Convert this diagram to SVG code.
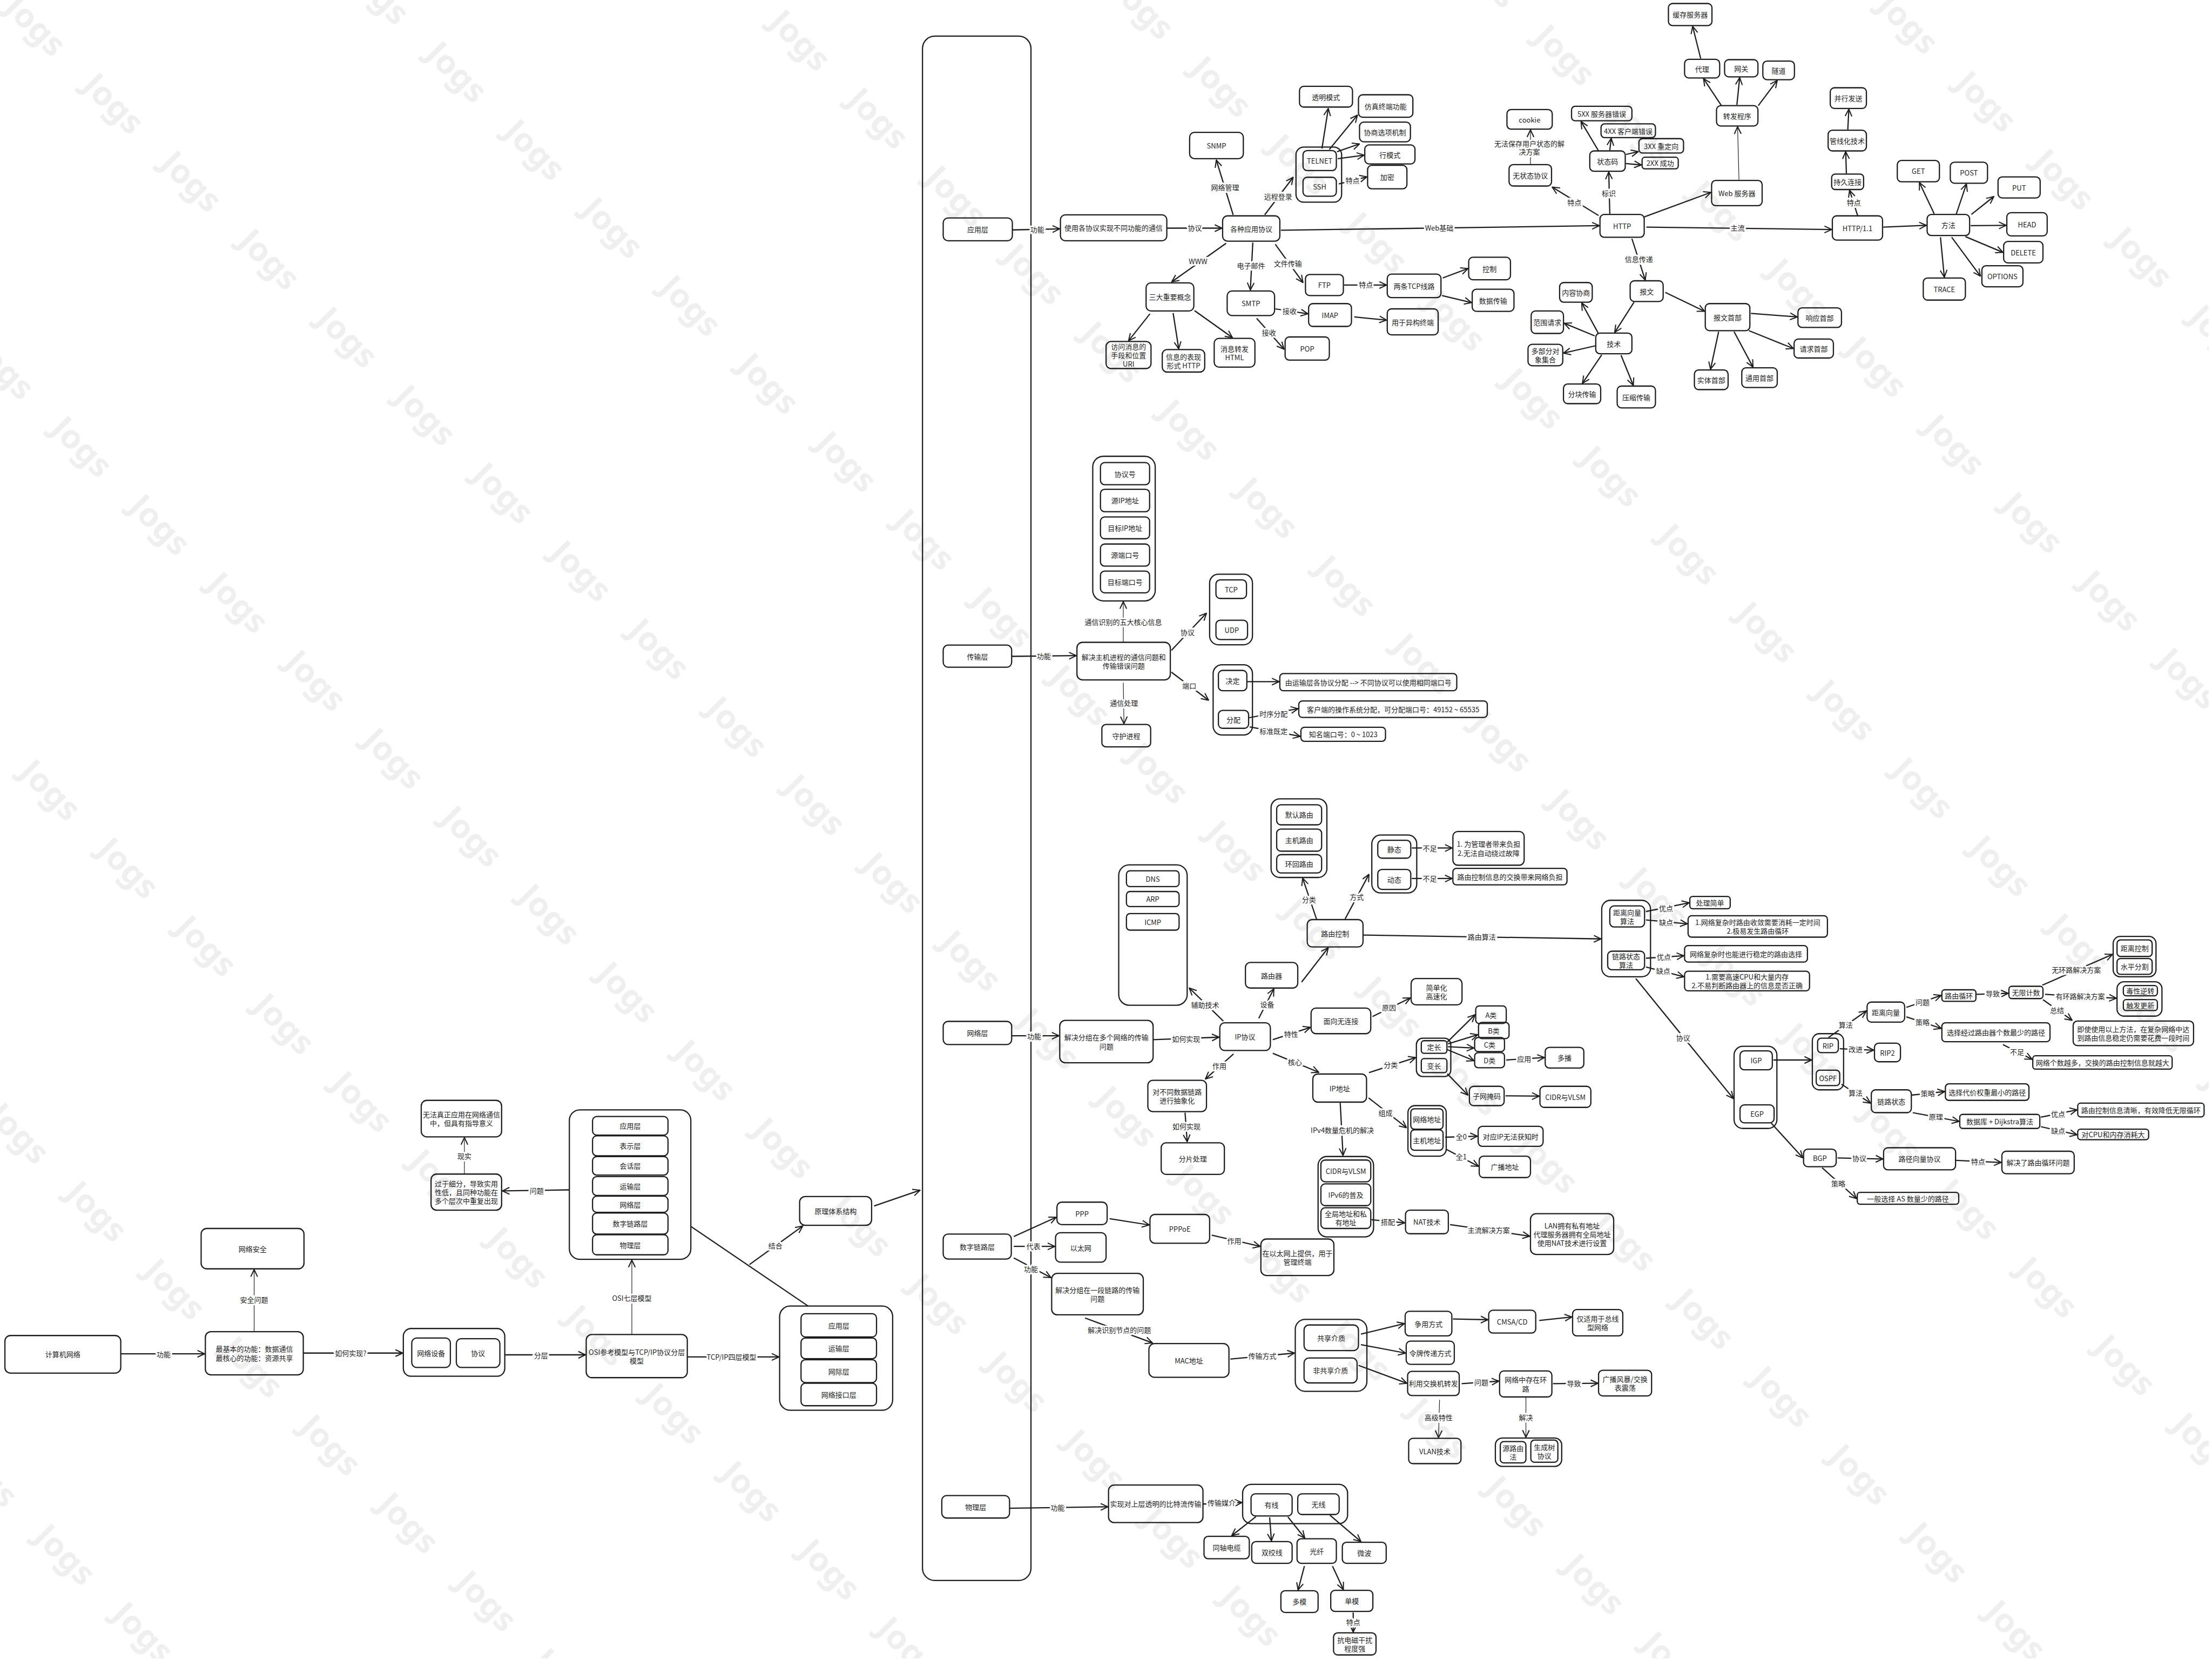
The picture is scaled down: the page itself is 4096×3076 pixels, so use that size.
<svg xmlns="http://www.w3.org/2000/svg" width="4096" height="3076" viewBox="0 0 4096 3076">
<defs>
<style>
.n{fill:none;stroke:#1e1e1e;stroke-width:3.5}
.t{font-family:"Noto Sans CJK SC","Noto Sans",sans-serif;font-size:20px;fill:#1e1e1e;text-anchor:middle;dominant-baseline:central}
.e{fill:none;stroke:#1e1e1e;stroke-width:3.5;marker-end:url(#ah)}
.th{stroke-width:1.8}
.nm{marker-end:none}
.l{font-family:"Noto Sans CJK SC","Noto Sans",sans-serif;font-size:20px;fill:#1e1e1e;text-anchor:middle;dominant-baseline:central;paint-order:stroke;stroke:#fff;stroke-width:10px;stroke-linejoin:round}
.wm{font-family:"Noto Sans","DejaVu Sans",sans-serif;font-weight:bold;font-size:95px;fill:#efefef;text-anchor:middle;dominant-baseline:central}
</style>
<marker id="ah" viewBox="0 0 20 20" refX="19" refY="10" markerWidth="24" markerHeight="24" markerUnits="userSpaceOnUse" orient="auto"><path d="M2,2 L19,10 L2,18" fill="none" stroke="#1e1e1e" stroke-width="2.6"/></marker>
<pattern id="wmp" patternUnits="userSpaceOnUse" x="-33.3" y="354.2" width="314" height="755.2" patternTransform="rotate(45)"><text class="wm" x="157" y="377">Jogs</text></pattern>
</defs>
<rect width="4096" height="3076" fill="#ffffff"/>
<g transform="scale(0.65)">
<rect width="6292" height="4725" fill="url(#wmp)"/>

<g id="nodes">
<g id="n-jsjwl"><rect class="n" x="14" y="3805" width="330" height="107" rx="16"/><text class="t" x="179" y="3858">计算机网络</text></g>
<g id="n-gn"><rect class="n" x="585" y="3794" width="279" height="123" rx="16"/><text class="t" x="724.5" y="3843">最基本的功能：数据通信</text><text class="t" x="724.5" y="3868">最核心的功能：资源共享</text></g>
<g id="n-wlaq"><rect class="n" x="573" y="3500" width="293" height="115" rx="16"/><text class="t" x="719.5" y="3557.5">网络安全</text></g>
<g id="g-sbxy"><rect class="n" x="1149" y="3785" width="289" height="136" rx="22"/><rect class="n" x="1173" y="3812" width="110" height="84" rx="14"/><text class="t" x="1228" y="3854">网络设备</text><rect class="n" x="1300" y="3814" width="124" height="82" rx="14"/><text class="t" x="1362" y="3855">协议</text></g>
<g id="n-osi"><rect class="n" x="1670" y="3802" width="288" height="123" rx="16"/><text class="t" x="1814" y="3851">OSI参考模型与TCP/IP协议分层</text><text class="t" x="1814" y="3876">模型</text></g>
<g id="g-osi7"><rect class="n" x="1622" y="3162" width="346" height="426" rx="30"/>
<rect class="n" x="1688" y="3181" width="215" height="53" rx="12"/><text class="t" x="1795.5" y="3207.5">应用层</text>
<rect class="n" x="1688" y="3236" width="215" height="57" rx="12"/><text class="t" x="1795.5" y="3264.5">表示层</text>
<rect class="n" x="1688" y="3295" width="215" height="53" rx="12"/><text class="t" x="1795.5" y="3321.5">会话层</text>
<rect class="n" x="1688" y="3352" width="215" height="54" rx="12"/><text class="t" x="1795.5" y="3379">运输层</text>
<rect class="n" x="1688" y="3408" width="215" height="46" rx="12"/><text class="t" x="1795.5" y="3431">网络层</text>
<rect class="n" x="1688" y="3456" width="215" height="60" rx="12"/><text class="t" x="1795.5" y="3486">数字链路层</text>
<rect class="n" x="1688" y="3518" width="215" height="57" rx="12"/><text class="t" x="1795.5" y="3546.5">物理层</text></g>
<g id="n-gyxf"><rect class="n" x="1228" y="3345" width="201" height="103" rx="16"/><text class="t" x="1328.5" y="3371.5">过于细分，导致实用</text><text class="t" x="1328.5" y="3396.5">性低，且同种功能在</text><text class="t" x="1328.5" y="3421.5">多个层次中重复出现</text></g>
<g id="n-wfzz"><rect class="n" x="1200" y="3135" width="229" height="104" rx="16"/><text class="t" x="1314.5" y="3174.5">无法真正应用在网络通信</text><text class="t" x="1314.5" y="3199.5">中，但具有指导意义</text></g>
<g id="g-tcpip"><rect class="n" x="2221" y="3721" width="322" height="297" rx="30"/>
<rect class="n" x="2282" y="3743" width="215" height="66" rx="12"/><text class="t" x="2389.5" y="3776">应用层</text>
<rect class="n" x="2282" y="3812" width="215" height="59" rx="12"/><text class="t" x="2389.5" y="3841.5">运输层</text>
<rect class="n" x="2282" y="3874" width="215" height="65" rx="12"/><text class="t" x="2389.5" y="3906.5">网际层</text>
<rect class="n" x="2282" y="3941" width="215" height="64" rx="12"/><text class="t" x="2389.5" y="3973">网络接口层</text></g>
<g id="n-ylti"><rect class="n" x="2278" y="3409" width="205" height="82" rx="16"/><text class="t" x="2380.5" y="3450">原理体系结构</text></g>

<g id="g-layers"><rect class="n" x="2628" y="103" width="309" height="4400" rx="35"/></g>
<g id="n-yyc"><rect class="n" x="2687" y="621" width="197" height="65" rx="14"/><text class="t" x="2785.5" y="653.5">应用层</text></g>
<g id="n-csc"><rect class="n" x="2687" y="1838" width="195" height="63" rx="14"/><text class="t" x="2784.5" y="1869.5">传输层</text></g>
<g id="n-wlc"><rect class="n" x="2687" y="2910" width="195" height="66" rx="14"/><text class="t" x="2784.5" y="2943">网络层</text></g>
<g id="n-szll"><rect class="n" x="2687" y="3516" width="194" height="71" rx="14"/><text class="t" x="2784" y="3551.5">数字链路层</text></g>
<g id="n-wlc2"><rect class="n" x="2683" y="4261" width="193" height="64" rx="14"/><text class="t" x="2779.5" y="4293">物理层</text></g>

<g id="n-sygxy"><rect class="n" x="3021" y="612" width="303" height="74" rx="14"/><text class="t" x="3172.5" y="649">使用各协议实现不同功能的通信</text></g>
<g id="n-gzyyxy"><rect class="n" x="3483" y="615" width="163" height="72" rx="14"/><text class="t" x="3564.5" y="651">各种应用协议</text></g>
<g id="n-snmp"><rect class="n" x="3389" y="377" width="153" height="75" rx="14"/><text class="t" x="3465.5" y="414.5">SNMP</text></g>
<g id="g-telnet"><rect class="n" x="3692" y="419" width="130" height="157" rx="22"/><rect class="n" x="3712" y="429" width="95" height="57" rx="12"/><text class="t" x="3759.5" y="457.5">TELNET</text><rect class="n" x="3712" y="505" width="95" height="54" rx="12"/><text class="t" x="3759.5" y="532">SSH</text></g>
<g id="n-tmms"><rect class="n" x="3702" y="246" width="151" height="59" rx="12"/><text class="t" x="3777.5" y="275.5">透明模式</text></g>
<g id="n-fzzd"><rect class="n" x="3870" y="270" width="155" height="64" rx="12"/><text class="t" x="3947.5" y="302">仿真终端功能</text></g>
<g id="n-xsxx"><rect class="n" x="3873" y="348" width="145" height="56" rx="12"/><text class="t" x="3945.5" y="376">协商选项机制</text></g>
<g id="n-hms"><rect class="n" x="3888" y="413" width="143" height="54" rx="12"/><text class="t" x="3959.5" y="440">行模式</text></g>
<g id="n-jm"><rect class="n" x="3896" y="471" width="112" height="67" rx="12"/><text class="t" x="3952" y="504.5">加密</text></g>
<g id="n-sdzy"><rect class="n" x="3265" y="806" width="136" height="80" rx="14"/><text class="t" x="3333" y="846">三大重要概念</text></g>
<g id="n-uri"><rect class="n" x="3151" y="973" width="128" height="77" rx="14"/><text class="t" x="3215" y="986.5">访问消息的</text><text class="t" x="3215" y="1011.5">手段和位置</text><text class="t" x="3215" y="1036.5">URI</text></g>
<g id="n-httpc"><rect class="n" x="3311" y="996" width="121" height="64" rx="14"/><text class="t" x="3371.5" y="1015.5">信息的表现</text><text class="t" x="3371.5" y="1040.5">形式 HTTP</text></g>
<g id="n-html"><rect class="n" x="3459" y="964" width="116" height="82" rx="14"/><text class="t" x="3517" y="992.5">消息转发</text><text class="t" x="3517" y="1017.5">HTML</text></g>
<g id="n-smtp"><rect class="n" x="3496" y="829" width="135" height="70" rx="14"/><text class="t" x="3563.5" y="864">SMTP</text></g>
<g id="n-ftp"><rect class="n" x="3719" y="782" width="108" height="60" rx="12"/><text class="t" x="3773" y="812">FTP</text></g>
<g id="n-ltcp"><rect class="n" x="3952" y="781" width="153" height="67" rx="12"/><text class="t" x="4028.5" y="814.5">两条TCP线路</text></g>
<g id="n-imap"><rect class="n" x="3728" y="865" width="122" height="65" rx="12"/><text class="t" x="3789" y="897.5">IMAP</text></g>
<g id="n-yyyg"><rect class="n" x="3952" y="880" width="145" height="74" rx="12"/><text class="t" x="4024.5" y="917">用于异构终端</text></g>
<g id="n-pop"><rect class="n" x="3661" y="960" width="126" height="66" rx="12"/><text class="t" x="3724" y="993">POP</text></g>
<g id="n-kz"><rect class="n" x="4184" y="733" width="119" height="64" rx="12"/><text class="t" x="4243.5" y="765">控制</text></g>
<g id="n-sjcs"><rect class="n" x="4194" y="824" width="119" height="63" rx="12"/><text class="t" x="4253.5" y="855.5">数据传输</text></g>
<g id="n-http"><rect class="n" x="4558" y="611" width="126" height="65" rx="12"/><text class="t" x="4621" y="643.5">HTTP</text></g>
<g id="n-wzt"><rect class="n" x="4299" y="469" width="121" height="61" rx="12"/><text class="t" x="4359.5" y="499.5">无状态协议</text></g>
<g id="n-cookie"><rect class="n" x="4293" y="312" width="129" height="56" rx="12"/><text class="t" x="4357.5" y="340">cookie</text></g>
<g id="n-ztm"><rect class="n" x="4529" y="430" width="101" height="58" rx="12"/><text class="t" x="4579.5" y="459">状态码</text></g>
<g id="n-5xx"><rect class="n" x="4477" y="303" width="172" height="41" rx="10"/><text class="t" x="4563" y="323.5">5XX 服务器错误</text></g>
<g id="n-4xx"><rect class="n" x="4561" y="353" width="155" height="39" rx="10"/><text class="t" x="4638.5" y="372.5">4XX 客户端错误</text></g>
<g id="n-3xx"><rect class="n" x="4669" y="395" width="127" height="41" rx="10"/><text class="t" x="4732.5" y="415.5">3XX 重定向</text></g>
<g id="n-2xx"><rect class="n" x="4678" y="448" width="103" height="33" rx="8"/><text class="t" x="4729.5" y="464.5">2XX 成功</text></g>
<g id="n-web"><rect class="n" x="4876" y="514" width="144" height="72" rx="12"/><text class="t" x="4948" y="550">Web 服务器</text></g>
<g id="n-zfcx"><rect class="n" x="4890" y="301" width="118" height="58" rx="12"/><text class="t" x="4949" y="330">转发程序</text></g>
<g id="n-dl"><rect class="n" x="4799" y="169" width="100" height="53" rx="12"/><text class="t" x="4849" y="195.5">代理</text></g>
<g id="n-wg"><rect class="n" x="4913" y="170" width="95" height="49" rx="12"/><text class="t" x="4960.5" y="194.5">网关</text></g>
<g id="n-sd"><rect class="n" x="5022" y="174" width="90" height="53" rx="12"/><text class="t" x="5067" y="200.5">隧道</text></g>
<g id="n-hcfwq"><rect class="n" x="4753" y="10" width="124" height="63" rx="12"/><text class="t" x="4815" y="41.5">缓存服务器</text></g>
<g id="n-http11"><rect class="n" x="5220" y="615" width="143" height="69" rx="12"/><text class="t" x="5291.5" y="649.5">HTTP/1.1</text></g>
<g id="n-cjlj"><rect class="n" x="5218" y="496" width="91" height="44" rx="10"/><text class="t" x="5263.5" y="518">持久连接</text></g>
<g id="n-gxh"><rect class="n" x="5208" y="371" width="109" height="59" rx="12"/><text class="t" x="5262.5" y="400.5">管线化技术</text></g>
<g id="n-bxfs"><rect class="n" x="5214" y="250" width="103" height="59" rx="12"/><text class="t" x="5265.5" y="279.5">并行发送</text></g>
<g id="n-ff"><rect class="n" x="5490" y="611" width="121" height="60" rx="12"/><text class="t" x="5550.5" y="641">方法</text></g>
<g id="n-get"><rect class="n" x="5405" y="457" width="120" height="61" rx="12"/><text class="t" x="5465" y="487.5">GET</text></g>
<g id="n-post"><rect class="n" x="5556" y="462" width="106" height="60" rx="12"/><text class="t" x="5609" y="492">POST</text></g>
<g id="n-put"><rect class="n" x="5692" y="504" width="120" height="60" rx="12"/><text class="t" x="5752" y="534">PUT</text></g>
<g id="n-head"><rect class="n" x="5717" y="606" width="115" height="66" rx="12"/><text class="t" x="5774.5" y="639">HEAD</text></g>
<g id="n-delete"><rect class="n" x="5708" y="688" width="112" height="61" rx="12"/><text class="t" x="5764" y="718.5">DELETE</text></g>
<g id="n-options"><rect class="n" x="5646" y="757" width="117" height="60" rx="12"/><text class="t" x="5704.5" y="787">OPTIONS</text></g>
<g id="n-trace"><rect class="n" x="5479" y="792" width="120" height="63" rx="12"/><text class="t" x="5539" y="823.5">TRACE</text></g>
<g id="n-bw"><rect class="n" x="4644" y="800" width="94" height="59" rx="12"/><text class="t" x="4691" y="829.5">报文</text></g>
<g id="n-js"><rect class="n" x="4546" y="949" width="103" height="59" rx="12"/><text class="t" x="4597.5" y="978.5">技术</text></g>
<g id="n-bwsb"><rect class="n" x="4858" y="865" width="127" height="77" rx="12"/><text class="t" x="4921.5" y="903.5">报文首部</text></g>
<g id="n-nrxs"><rect class="n" x="4443" y="805" width="93" height="56" rx="12"/><text class="t" x="4489.5" y="833">内容协商</text></g>
<g id="n-fwqq"><rect class="n" x="4362" y="886" width="92" height="64" rx="12"/><text class="t" x="4408" y="918">范围请求</text></g>
<g id="n-dbf"><rect class="n" x="4353" y="981" width="99" height="61" rx="12"/><text class="t" x="4402.5" y="999">多部分对</text><text class="t" x="4402.5" y="1024">象集合</text></g>
<g id="n-fkcs"><rect class="n" x="4454" y="1094" width="106" height="56" rx="12"/><text class="t" x="4507" y="1122">分块传输</text></g>
<g id="n-yscs"><rect class="n" x="4607" y="1100" width="109" height="62" rx="12"/><text class="t" x="4661.5" y="1131">压缩传输</text></g>
<g id="n-xysb"><rect class="n" x="5122" y="877" width="124" height="56" rx="12"/><text class="t" x="5184" y="905">响应首部</text></g>
<g id="n-qqsb"><rect class="n" x="5111" y="966" width="112" height="54" rx="12"/><text class="t" x="5167" y="993">请求首部</text></g>
<g id="n-stsb"><rect class="n" x="4827" y="1054" width="96" height="56" rx="12"/><text class="t" x="4875" y="1082">实体首部</text></g>
<g id="n-tysb"><rect class="n" x="4962" y="1048" width="101" height="56" rx="12"/><text class="t" x="5012.5" y="1076">通用首部</text></g>

<g id="n-jjzj"><rect class="n" x="3068" y="1830" width="266" height="107" rx="16"/><text class="t" x="3201" y="1871">解决主机进程的通信问题和</text><text class="t" x="3201" y="1896">传输错误问题</text></g>
<g id="g-wdhx"><rect class="n" x="3113" y="1300" width="178" height="412" rx="30"/>
<rect class="n" x="3135" y="1318" width="140" height="63" rx="12"/><text class="t" x="3205" y="1349.5">协议号</text>
<rect class="n" x="3135" y="1394" width="140" height="64" rx="12"/><text class="t" x="3205" y="1426">源IP地址</text>
<rect class="n" x="3135" y="1473" width="140" height="62" rx="12"/><text class="t" x="3205" y="1504">目标IP地址</text>
<rect class="n" x="3135" y="1550" width="140" height="63" rx="12"/><text class="t" x="3205" y="1581.5">源端口号</text>
<rect class="n" x="3135" y="1627" width="140" height="62" rx="12"/><text class="t" x="3205" y="1658">目标端口号</text></g>
<g id="g-tcpudp"><rect class="n" x="3446" y="1636" width="122" height="201" rx="25"/><rect class="n" x="3464" y="1652" width="87" height="53" rx="12"/><text class="t" x="3507.5" y="1678.5">TCP</text><rect class="n" x="3464" y="1767" width="90" height="55" rx="12"/><text class="t" x="3509" y="1794.5">UDP</text></g>
<g id="g-jdfp"><rect class="n" x="3456" y="1894" width="112" height="200" rx="25"/><rect class="n" x="3471" y="1910" width="81" height="58" rx="12"/><text class="t" x="3511.5" y="1939">决定</text><rect class="n" x="3471" y="2024" width="86" height="51" rx="12"/><text class="t" x="3514" y="2049.5">分配</text></g>
<g id="n-yscfp"><rect class="n" x="3646" y="1919" width="504" height="49" rx="10"/><text class="t" x="3898" y="1943.5">由运输层各协议分配 --&gt; 不同协议可以使用相同端口号</text></g>
<g id="n-khd"><rect class="n" x="3700" y="1997" width="537" height="47" rx="10"/><text class="t" x="3968.5" y="2020.5">客户端的操作系统分配，可分配端口号：49152 ~ 65535</text></g>
<g id="n-zmdk"><rect class="n" x="3706" y="2072" width="241" height="40" rx="10"/><text class="t" x="3826.5" y="2092">知名端口号：0 ~ 1023</text></g>
<g id="n-shjc"><rect class="n" x="3139" y="2064" width="139" height="64" rx="12"/><text class="t" x="3208.5" y="2096">守护进程</text></g>

<g id="n-jjfz"><rect class="n" x="3019" y="2907" width="266" height="121" rx="16"/><text class="t" x="3152" y="2955">解决分组在多个网络的传输</text><text class="t" x="3152" y="2980">问题</text></g>
<g id="n-ipxy"><rect class="n" x="3475" y="2914" width="144" height="79" rx="14"/><text class="t" x="3547" y="2953.5">IP协议</text></g>
<g id="g-dns"><rect class="n" x="3187" y="2464" width="195" height="400" rx="30"/><rect class="n" x="3209" y="2481" width="150" height="45" rx="10"/><text class="t" x="3284" y="2503.5">DNS</text><rect class="n" x="3209" y="2540" width="150" height="43" rx="10"/><text class="t" x="3284" y="2561.5">ARP</text><rect class="n" x="3209" y="2603" width="150" height="47" rx="10"/><text class="t" x="3284" y="2626.5">ICMP</text></g>
<g id="n-lyq"><rect class="n" x="3548" y="2742" width="149" height="73" rx="14"/><text class="t" x="3622.5" y="2778.5">路由器</text></g>
<g id="n-lykz"><rect class="n" x="3724" y="2620" width="159" height="78" rx="14"/><text class="t" x="3803.5" y="2659">路由控制</text></g>
<g id="g-lyfl"><rect class="n" x="3621" y="2276" width="159" height="224" rx="25"/><rect class="n" x="3637" y="2293" width="128" height="57" rx="12"/><text class="t" x="3701" y="2321.5">默认路由</text><rect class="n" x="3637" y="2362" width="128" height="63" rx="12"/><text class="t" x="3701" y="2393.5">主机路由</text><rect class="n" x="3637" y="2435" width="128" height="52" rx="12"/><text class="t" x="3701" y="2461">环回路由</text></g>
<g id="g-jtdt"><rect class="n" x="3908" y="2379" width="128" height="165" rx="25"/><rect class="n" x="3925" y="2394" width="94" height="51" rx="12"/><text class="t" x="3972" y="2419.5">静态</text><rect class="n" x="3925" y="2477" width="94" height="57" rx="12"/><text class="t" x="3972" y="2505.5">动态</text></g>
<g id="n-jtbz"><rect class="n" x="4139" y="2369" width="203" height="96" rx="14"/><text class="t" x="4240.5" y="2404.5">1. 为管理者带来负担</text><text class="t" x="4240.5" y="2429.5">2.无法自动绕过故障</text></g>
<g id="n-dtbz"><rect class="n" x="4139" y="2474" width="325" height="47" rx="10"/><text class="t" x="4301.5" y="2497.5">路由控制信息的交换带来网络负担</text></g>
<g id="g-sf"><rect class="n" x="4563" y="2565" width="139" height="218" rx="25"/><rect class="n" x="4586" y="2581" width="99" height="60" rx="12"/><text class="t" x="4635.5" y="2598.5">距离向量</text><text class="t" x="4635.5" y="2623.5">算法</text><rect class="n" x="4580" y="2710" width="105" height="53" rx="12"/><text class="t" x="4632.5" y="2724">链路状态</text><text class="t" x="4632.5" y="2749">算法</text></g>
<g id="n-cljd"><rect class="n" x="4814" y="2554" width="115" height="35" rx="8"/><text class="t" x="4871.5" y="2571.5">处理简单</text></g>
<g id="n-jlqd"><rect class="n" x="4809" y="2609" width="397" height="61" rx="10"/><text class="t" x="5007.5" y="2627">1.网络复杂时路由收敛需要消耗一定时间</text><text class="t" x="5007.5" y="2652">2.极易发生路由循环</text></g>
<g id="n-llyd"><rect class="n" x="4799" y="2694" width="350" height="47" rx="10"/><text class="t" x="4974" y="2717.5">网络复杂时也能进行稳定的路由选择</text></g>
<g id="n-llqd"><rect class="n" x="4799" y="2767" width="356" height="56" rx="10"/><text class="t" x="4977" y="2782.5">1.需要高速CPU和大量内存</text><text class="t" x="4977" y="2807.5">2.不易判断路由器上的信息是否正确</text></g>
<g id="g-igp"><rect class="n" x="4940" y="2981" width="122" height="234" rx="25"/><rect class="n" x="4957" y="2994" width="92" height="54" rx="12"/><text class="t" x="5003" y="3021">IGP</text><rect class="n" x="4957" y="3148" width="97" height="51" rx="12"/><text class="t" x="5005.5" y="3173.5">EGP</text></g>
<g id="g-rip"><rect class="n" x="5163" y="2945" width="89" height="160" rx="20"/><rect class="n" x="5178" y="2958" width="59" height="41" rx="10"/><text class="t" x="5207.5" y="2978.5">RIP</text><rect class="n" x="5174" y="3049" width="67" height="44" rx="10"/><text class="t" x="5207.5" y="3071">OSPF</text></g>
<g id="n-jlxl"><rect class="n" x="5319" y="2855" width="107" height="57" rx="12"/><text class="t" x="5372.5" y="2883.5">距离向量</text></g>
<g id="n-rip2"><rect class="n" x="5340" y="2972" width="74" height="53" rx="12"/><text class="t" x="5377" y="2998.5">RIP2</text></g>
<g id="n-lyxh"><rect class="n" x="5532" y="2820" width="97" height="33" rx="8"/><text class="t" x="5580.5" y="2836.5">路由循环</text></g>
<g id="n-wxjs"><rect class="n" x="5723" y="2810" width="97" height="35" rx="8"/><text class="t" x="5771.5" y="2827.5">无限计数</text></g>
<g id="g-jlkz"><rect class="n" x="6020" y="2668" width="122" height="115" rx="20"/><rect class="n" x="6031" y="2678" width="100" height="47" rx="10"/><text class="t" x="6081" y="2701.5">距离控制</text><rect class="n" x="6031" y="2731" width="100" height="45" rx="10"/><text class="t" x="6081" y="2753.5">水平分割</text></g>
<g id="g-dxnz"><rect class="n" x="6031" y="2797" width="128" height="98" rx="20"/><rect class="n" x="6049" y="2808" width="97" height="29" rx="8"/><text class="t" x="6097.5" y="2822.5">毒性逆转</text><rect class="n" x="6049" y="2848" width="97" height="31" rx="8"/><text class="t" x="6097.5" y="2863.5">触发更新</text></g>
<g id="n-jssy"><rect class="n" x="5906" y="2909" width="343" height="70" rx="12"/><text class="t" x="6077.5" y="2931.5">即使使用以上方法，在复杂网络中达</text><text class="t" x="6077.5" y="2956.5">到路由信息稳定仍需要花费一段时间</text></g>
<g id="n-xzjg"><rect class="n" x="5532" y="2914" width="308" height="54" rx="10"/><text class="t" x="5686" y="2941">选择经过路由器个数最少的路径</text></g>
<g id="n-wlgs"><rect class="n" x="5791" y="3008" width="397" height="38" rx="8"/><text class="t" x="5989.5" y="3027">网络个数越多，交换的路由控制信息就越大</text></g>
<g id="n-llzt"><rect class="n" x="5331" y="3105" width="114" height="65" rx="12"/><text class="t" x="5388" y="3137.5">链路状态</text></g>
<g id="n-xzdj"><rect class="n" x="5542" y="3088" width="238" height="47" rx="10"/><text class="t" x="5661" y="3111.5">选择代价权重最小的路径</text></g>
<g id="n-sjk"><rect class="n" x="5583" y="3175" width="228" height="40" rx="8"/><text class="t" x="5697" y="3195">数据库 + Dijkstra算法</text></g>
<g id="n-lyqx"><rect class="n" x="5919" y="3143" width="360" height="39" rx="8"/><text class="t" x="6099" y="3162.5">路由控制信息清晰，有效降低无限循环</text></g>
<g id="n-dcpu"><rect class="n" x="5919" y="3217" width="202" height="30" rx="8"/><text class="t" x="6020" y="3232">对CPU和内存消耗大</text></g>
<g id="n-bgp"><rect class="n" x="5138" y="3274" width="93" height="50" rx="12"/><text class="t" x="5184.5" y="3299">BGP</text></g>
<g id="n-ljxl"><rect class="n" x="5366" y="3270" width="205" height="63" rx="12"/><text class="t" x="5468.5" y="3301.5">路径向量协议</text></g>
<g id="n-jjlly"><rect class="n" x="5703" y="3280" width="206" height="64" rx="12"/><text class="t" x="5806" y="3312">解决了路由循环问题</text></g>
<g id="n-ybxz"><rect class="n" x="5291" y="3397" width="289" height="34" rx="8"/><text class="t" x="5435.5" y="3414">一般选择 AS 数量少的路径</text></g>
<g id="n-mxwlj"><rect class="n" x="3735" y="2872" width="170" height="73" rx="14"/><text class="t" x="3820" y="2908.5">面向无连接</text></g>
<g id="n-jdh"><rect class="n" x="4020" y="2788" width="145" height="75" rx="14"/><text class="t" x="4092.5" y="2813">简单化</text><text class="t" x="4092.5" y="2838">高速化</text></g>
<g id="n-ipdz"><rect class="n" x="3740" y="3060" width="153" height="80" rx="14"/><text class="t" x="3816.5" y="3100">IP地址</text></g>
<g id="g-dcbc"><rect class="n" x="4035" y="2958" width="98" height="109" rx="18"/><rect class="n" x="4049" y="2965" width="73" height="36" rx="8"/><text class="t" x="4085.5" y="2983">定长</text><rect class="n" x="4049" y="3016" width="73" height="40" rx="8"/><text class="t" x="4085.5" y="3036">变长</text></g>
<g id="n-al"><rect class="n" x="4204" y="2866" width="87" height="50" rx="10"/><text class="t" x="4247.5" y="2891">A类</text></g>
<g id="n-bl"><rect class="n" x="4212" y="2913" width="87" height="46" rx="10"/><text class="t" x="4255.5" y="2936">B类</text></g>
<g id="n-cl"><rect class="n" x="4201" y="2956" width="85" height="40" rx="10"/><text class="t" x="4243.5" y="2976">C类</text></g>
<g id="n-dl2"><rect class="n" x="4201" y="2999" width="85" height="43" rx="10"/><text class="t" x="4243.5" y="3020.5">D类</text></g>
<g id="n-db"><rect class="n" x="4402" y="2984" width="110" height="59" rx="12"/><text class="t" x="4457" y="3013.5">多播</text></g>
<g id="n-zwym"><rect class="n" x="4186" y="3095" width="99" height="55" rx="12"/><text class="t" x="4235.5" y="3122.5">子网掩码</text></g>
<g id="n-cidr1"><rect class="n" x="4387" y="3095" width="145" height="60" rx="12"/><text class="t" x="4459.5" y="3125">CIDR与VLSM</text></g>
<g id="n-dbt"><rect class="n" x="3270" y="3078" width="167" height="89" rx="14"/><text class="t" x="3353.5" y="3110">对不同数据链路</text><text class="t" x="3353.5" y="3135">进行抽象化</text></g>
<g id="n-fpcl"><rect class="n" x="3308" y="3256" width="180" height="90" rx="14"/><text class="t" x="3398" y="3301">分片处理</text></g>
<g id="g-zc"><rect class="n" x="4011" y="3150" width="109" height="144" rx="20"/><rect class="n" x="4019" y="3159" width="92" height="58" rx="10"/><text class="t" x="4065" y="3188">网络地址</text><rect class="n" x="4019" y="3219" width="92" height="58" rx="10"/><text class="t" x="4065" y="3248">主机地址</text></g>
<g id="n-dyip"><rect class="n" x="4211" y="3209" width="185" height="57" rx="12"/><text class="t" x="4303.5" y="3237.5">对应IP无法获知时</text></g>
<g id="n-gbdz"><rect class="n" x="4214" y="3294" width="146" height="61" rx="12"/><text class="t" x="4287" y="3324.5">广播地址</text></g>
<g id="g-ipv4"><rect class="n" x="3755" y="3295" width="158" height="229" rx="25"/><rect class="n" x="3763" y="3305" width="142" height="62" rx="12"/><text class="t" x="3834" y="3336">CIDR与VLSM</text><rect class="n" x="3763" y="3373" width="142" height="62" rx="12"/><text class="t" x="3834" y="3404">IPv6的普及</text><rect class="n" x="3763" y="3441" width="142" height="59" rx="12"/><text class="t" x="3834" y="3458">全局地址和私</text><text class="t" x="3834" y="3483">有地址</text></g>
<g id="n-nat"><rect class="n" x="4004" y="3448" width="122" height="67" rx="12"/><text class="t" x="4065" y="3481.5">NAT技术</text></g>
<g id="n-lan"><rect class="n" x="4360" y="3458" width="237" height="116" rx="16"/><text class="t" x="4478.5" y="3491">LAN拥有私有地址</text><text class="t" x="4478.5" y="3516">代理服务器拥有全局地址</text><text class="t" x="4478.5" y="3541">使用NAT技术进行设置</text></g>

<g id="n-ppp"><rect class="n" x="3011" y="3425" width="143" height="64" rx="14"/><text class="t" x="3082.5" y="3457">PPP</text></g>
<g id="n-ytw"><rect class="n" x="3007" y="3512" width="144" height="84" rx="14"/><text class="t" x="3079" y="3554">以太网</text></g>
<g id="n-jjyd"><rect class="n" x="2996" y="3628" width="261" height="118" rx="16"/><text class="t" x="3126.5" y="3674.5">解决分组在一段链路的传输</text><text class="t" x="3126.5" y="3699.5">问题</text></g>
<g id="n-pppoe"><rect class="n" x="3276" y="3460" width="170" height="82" rx="14"/><text class="t" x="3361" y="3501">PPPoE</text></g>
<g id="n-zytw"><rect class="n" x="3592" y="3530" width="208" height="104" rx="16"/><text class="t" x="3696" y="3569.5">在以太网上提供，用于</text><text class="t" x="3696" y="3594.5">管理终端</text></g>
<g id="n-mac"><rect class="n" x="3273" y="3828" width="228" height="96" rx="16"/><text class="t" x="3387" y="3876">MAC地址</text></g>
<g id="g-jz"><rect class="n" x="3690" y="3759" width="204" height="205" rx="28"/><rect class="n" x="3715" y="3775" width="155" height="73" rx="14"/><text class="t" x="3792.5" y="3811.5">共享介质</text><rect class="n" x="3715" y="3869" width="151" height="71" rx="14"/><text class="t" x="3790.5" y="3904.5">非共享介质</text></g>
<g id="n-zyfs"><rect class="n" x="4003" y="3736" width="133" height="70" rx="12"/><text class="t" x="4069.5" y="3771">争用方式</text></g>
<g id="n-lpcd"><rect class="n" x="4006" y="3821" width="137" height="66" rx="12"/><text class="t" x="4074.5" y="3854">令牌传递方式</text></g>
<g id="n-lyjhj"><rect class="n" x="4010" y="3907" width="147" height="69" rx="12"/><text class="t" x="4083.5" y="3941.5">利用交换机转发</text></g>
<g id="n-cmsa"><rect class="n" x="4241" y="3733" width="134" height="65" rx="12"/><text class="t" x="4308" y="3765.5">CMSA/CD</text></g>
<g id="n-jsyz"><rect class="n" x="4480" y="3731" width="143" height="75" rx="12"/><text class="t" x="4551.5" y="3756">仅适用于总线</text><text class="t" x="4551.5" y="3781">型网络</text></g>
<g id="n-wlzc"><rect class="n" x="4272" y="3906" width="149" height="74" rx="12"/><text class="t" x="4346.5" y="3930.5">网络中存在环</text><text class="t" x="4346.5" y="3955.5">路</text></g>
<g id="n-gbfb"><rect class="n" x="4554" y="3904" width="151" height="73" rx="12"/><text class="t" x="4629.5" y="3928">广播风暴/交换</text><text class="t" x="4629.5" y="3953">表震荡</text></g>
<g id="n-vlan"><rect class="n" x="4013" y="4098" width="149" height="72" rx="12"/><text class="t" x="4087.5" y="4134">VLAN技术</text></g>
<g id="g-ylyf"><rect class="n" x="4260" y="4097" width="189" height="81" rx="20"/><rect class="n" x="4274" y="4107" width="73" height="61" rx="10"/><text class="t" x="4310.5" y="4125">源路由</text><text class="t" x="4310.5" y="4150">法</text><rect class="n" x="4361" y="4103" width="77" height="63" rx="10"/><text class="t" x="4399.5" y="4122">生成树</text><text class="t" x="4399.5" y="4147">协议</text></g>

<g id="n-sxds"><rect class="n" x="3158" y="4231" width="269" height="107" rx="16"/><text class="t" x="3292.5" y="4284.5">实现对上层透明的比特流传输</text></g>
<g id="g-yxwx"><rect class="n" x="3540" y="4229" width="299" height="112" rx="25"/><rect class="n" x="3564" y="4256" width="117" height="63" rx="12"/><text class="t" x="3622.5" y="4287.5">有线</text><rect class="n" x="3697" y="4256" width="118" height="59" rx="12"/><text class="t" x="3756" y="4285.5">无线</text></g>
<g id="n-tzdl"><rect class="n" x="3430" y="4377" width="129" height="64" rx="12"/><text class="t" x="3494.5" y="4409">同轴电缆</text></g>
<g id="n-sjx"><rect class="n" x="3566" y="4392" width="115" height="62" rx="12"/><text class="t" x="3623.5" y="4423">双绞线</text></g>
<g id="n-gx"><rect class="n" x="3695" y="4384" width="112" height="70" rx="12"/><text class="t" x="3751" y="4419">光纤</text></g>
<g id="n-wb"><rect class="n" x="3824" y="4394" width="125" height="60" rx="12"/><text class="t" x="3886.5" y="4424">微波</text></g>
<g id="n-dm"><rect class="n" x="3649" y="4532" width="106" height="62" rx="12"/><text class="t" x="3702" y="4563">多模</text></g>
<g id="n-dm2"><rect class="n" x="3791" y="4531" width="120" height="60" rx="12"/><text class="t" x="3851" y="4561">单模</text></g>
<g id="n-kdc"><rect class="n" x="3799" y="4652" width="121" height="63" rx="12"/><text class="t" x="3859.5" y="4671">抗电磁干扰</text><text class="t" x="3859.5" y="4696">程度强</text></g>
</g>

<g id="connectors">
<path class="e" d="M344,3857 L583,3857"/>
<path class="e th" d="M724,3794 L724,3617"/>
<path class="e" d="M864,3855 L1147,3855"/>
<path class="e" d="M1438,3860 L1668,3860"/>
<path class="e th" d="M1800,3802 L1800,3590"/>
<path class="e" d="M1622,3390 L1431,3393"/>
<path class="e th" d="M1323,3345 L1323,3241"/>
<path class="e" d="M1958,3866 L2219,3866"/>
<path class="e nm" d="M1968,3494 L2302,3721"/>
<path class="e" d="M2135,3603 L2287,3493"/>
<path class="e" d="M2490,3436 L2621,3391"/>

<path class="e" d="M2884,655 L3019,652"/>
<path class="e" d="M3324,650 L3481,650"/>
<path class="e" d="M3513,612 L3465,456"/>
<path class="e" d="M3603,612 L3684,505"/>
<path class="e" d="M3766,423 L3784,309"/>
<path class="e" d="M3787,426 L3867,328"/>
<path class="e" d="M3809,432 L3873,410"/>
<path class="e" d="M3811,452 L3886,442"/>
<path class="e" d="M3814,524 L3894,504"/>
<path class="e" d="M3493,693 L3338,803"/>
<path class="e" d="M3276,894 L3215,971"/>
<path class="e" d="M3342,892 L3358,994"/>
<path class="e" d="M3403,885 L3511,962"/>
<path class="e" d="M3569,691 L3562,826"/>
<path class="e" d="M3633,696 L3712,805"/>
<path class="e" d="M3829,812 L3950,812"/>
<path class="e" d="M3633,880 L3726,894"/>
<path class="e" d="M3858,903 L3950,912"/>
<path class="e" d="M3580,907 L3658,995"/>
<path class="e" d="M4110,792 L4182,765"/>
<path class="e" d="M4108,842 L4192,862"/>
<path class="e" d="M3649,656 L4556,643"/>
<path class="e" d="M4554,614 L4422,533"/>
<path class="e th" d="M4360,469 L4360,370"/>
<path class="e" d="M4586,609 L4583,490"/>
<path class="e" d="M4554,430 L4504,346"/>
<path class="e" d="M4586,428 L4590,394"/>
<path class="e" d="M4632,440 L4667,432"/>
<path class="e" d="M4632,466 L4676,470"/>
<path class="e" d="M4684,618 L4874,548"/>
<path class="e th" d="M4954,512 L4950,361"/>
<path class="e" d="M4904,301 L4853,224"/>
<path class="e" d="M4948,299 L4956,221"/>
<path class="e" d="M5009,301 L5063,229"/>
<path class="e" d="M4845,167 L4822,75"/>
<path class="e" d="M4690,647 L5218,654"/>
<path class="e" d="M5292,614 L5269,542"/>
<path class="e" d="M5260,494 L5258,432"/>
<path class="e" d="M5264,369 L5267,311"/>
<path class="e" d="M5365,647 L5488,642"/>
<path class="e" d="M5510,609 L5468,520"/>
<path class="e" d="M5573,610 L5602,524"/>
<path class="e" d="M5616,611 L5680,560"/>
<path class="e" d="M5614,643 L5715,642"/>
<path class="e" d="M5599,674 L5706,719"/>
<path class="e" d="M5560,676 L5642,787"/>
<path class="e" d="M5528,676 L5539,790"/>
<path class="e" d="M4649,680 L4687,798"/>
<path class="e" d="M4655,861 L4600,947"/>
<path class="e" d="M4744,833 L4856,887"/>
<path class="e" d="M4554,951 L4506,863"/>
<path class="e" d="M4543,957 L4456,921"/>
<path class="e" d="M4546,985 L4454,1006"/>
<path class="e" d="M4563,1011 L4508,1092"/>
<path class="e" d="M4618,1012 L4653,1098"/>
<path class="e" d="M4988,893 L5120,903"/>
<path class="e" d="M4982,942 L5109,993"/>
<path class="e" d="M4896,945 L4873,1052"/>
<path class="e" d="M4940,945 L4994,1046"/>

<path class="e" d="M2882,1870 L3066,1868"/>
<path class="e th" d="M3200,1830 L3200,1714"/>
<path class="e" d="M3337,1853 L3437,1747"/>
<path class="e" d="M3337,1915 L3443,1995"/>
<path class="e" d="M3552,1942 L3644,1942"/>
<path class="e" d="M3557,2045 L3698,2019"/>
<path class="e" d="M3560,2071 L3704,2098"/>
<path class="e th" d="M3200,1945 L3202,2062"/>

<path class="e" d="M2882,2951 L3017,2951"/>
<path class="e" d="M3285,2962 L3473,2955"/>
<path class="e" d="M3485,2909 L3388,2815"/>
<path class="e" d="M3586,2901 L3629,2817"/>
<path class="e" d="M3708,2798 L3784,2700"/>
<path class="e" d="M3751,2620 L3711,2502"/>
<path class="e" d="M3832,2618 L3900,2491"/>
<path class="e" d="M4022,2416 L4137,2416"/>
<path class="e" d="M4022,2503 L4137,2503"/>
<path class="e" d="M3883,2664 L4561,2675"/>
<path class="e" d="M4689,2597 L4812,2572"/>
<path class="e" d="M4689,2621 L4807,2632"/>
<path class="e" d="M4689,2730 L4797,2723"/>
<path class="e" d="M4689,2755 L4797,2783"/>
<path class="e" d="M4660,2788 L4938,3130"/>
<path class="e" d="M5052,3020 L5161,3020"/>
<path class="e" d="M5209,2956 L5317,2880"/>
<path class="e" d="M5241,2988 L5338,2992"/>
<path class="e" d="M5431,2870 L5530,2836"/>
<path class="e" d="M5631,2833 L5721,2830"/>
<path class="e" d="M5818,2807 L6018,2719"/>
<path class="e" d="M5826,2833 L6029,2844"/>
<path class="e" d="M5820,2848 L5903,2907"/>
<path class="e" d="M5431,2897 L5530,2930"/>
<path class="e" d="M5706,2976 L5789,3018"/>
<path class="e" d="M5246,3089 L5329,3143"/>
<path class="e" d="M5446,3120 L5540,3110"/>
<path class="e" d="M5449,3170 L5581,3195"/>
<path class="e" d="M5814,3183 L5917,3162"/>
<path class="e" d="M5814,3210 L5917,3233"/>
<path class="e" d="M5046,3200 L5136,3299"/>
<path class="e" d="M5235,3299 L5364,3302"/>
<path class="e" d="M5572,3306 L5701,3312"/>
<path class="e" d="M5191,3327 L5289,3415"/>
<path class="e" d="M3626,2962 L3733,2927"/>
<path class="e" d="M3910,2896 L4018,2843"/>
<path class="e" d="M3626,3001 L3757,3055"/>
<path class="e" d="M3900,3056 L4033,3013"/>
<path class="e" d="M4123,2969 L4202,2891"/>
<path class="e" d="M4125,2974 L4210,2948"/>
<path class="e" d="M4125,2982 L4199,2986"/>
<path class="e" d="M4122,2990 L4199,3022"/>
<path class="e" d="M4291,3020 L4400,3013"/>
<path class="e" d="M4123,3059 L4182,3120"/>
<path class="e" d="M4289,3122 L4385,3123"/>
<path class="e" d="M3514,3003 L3434,3074"/>
<path class="e" d="M3376,3170 L3382,3253"/>
<path class="e" d="M3899,3128 L4007,3213"/>
<path class="e" d="M4117,3240 L4209,3237"/>
<path class="e" d="M4119,3274 L4212,3323"/>
<path class="e" d="M3818,3142 L3826,3292"/>
<path class="e" d="M3907,3475 L4002,3484"/>
<path class="e" d="M4131,3489 L4358,3522"/>

<path class="e" d="M2888,3523 L3009,3468"/>
<path class="e" d="M2888,3551 L3005,3551"/>
<path class="e" d="M2888,3584 L2994,3640"/>
<path class="e" d="M3161,3472 L3274,3490"/>
<path class="e" d="M3452,3519 L3590,3551"/>
<path class="e" d="M3091,3755 L3283,3826"/>
<path class="e" d="M3505,3872 L3688,3855"/>
<path class="e" d="M3877,3801 L4001,3771"/>
<path class="e" d="M3877,3831 L4004,3855"/>
<path class="e" d="M3870,3890 L4008,3941"/>
<path class="e" d="M4139,3758 L4239,3760"/>
<path class="e" d="M4385,3762 L4478,3752"/>
<path class="e" d="M4164,3942 L4270,3935"/>
<path class="e" d="M4424,3942 L4552,3941"/>
<path class="e th" d="M4101,3988 L4098,4096"/>
<path class="e th" d="M4347,3981 L4347,4095"/>

<path class="e" d="M2876,4297 L3156,4293"/>
<path class="e" d="M3427,4285 L3538,4281"/>
<path class="e" d="M3578,4321 L3509,4375"/>
<path class="e" d="M3617,4323 L3622,4390"/>
<path class="e" d="M3669,4322 L3717,4382"/>
<path class="e" d="M3789,4317 L3877,4392"/>
<path class="e" d="M3716,4462 L3698,4530"/>
<path class="e" d="M3796,4462 L3827,4529"/>
<path class="e" d="M3855,4594 L3855,4650"/>

<text class="l" x="466" y="3857">功能</text>
<text class="l" x="724" y="3703">安全问题</text>
<text class="l" x="999" y="3854">如何实现?</text>
<text class="l" x="1541" y="3860">分层</text>
<text class="l" x="1800" y="3697">OSI七层模型</text>
<text class="l" x="1529" y="3392">问题</text>
<text class="l" x="1323" y="3293">现实</text>
<text class="l" x="2084" y="3866">TCP/IP四层模型</text>
<text class="l" x="2209" y="3548">结合</text>

<text class="l" x="2955" y="653">功能</text>
<text class="l" x="3404" y="648">协议</text>
<text class="l" x="3490" y="533">网络管理</text>
<text class="l" x="3641" y="559">远程登录</text>
<text class="l" x="3853" y="513">特点</text>
<text class="l" x="3413" y="744">WWW</text>
<text class="l" x="3564" y="756">电子邮件</text>
<text class="l" x="3669" y="750">文件传输</text>
<text class="l" x="3891" y="810">特点</text>
<text class="l" x="3674" y="885">接收</text>
<text class="l" x="3615" y="947">接收</text>
<text class="l" x="4100" y="648">Web基础</text>
<text class="l" x="4485" y="576">特点</text>
<text class="l" x="4357" y="408">无法保存用户状态的解</text>
<text class="l" x="4357" y="431">决方案</text>
<text class="l" x="4583" y="550">标识</text>
<text class="l" x="4950" y="649">主流</text>
<text class="l" x="5281" y="576">特点</text>
<text class="l" x="4669" y="737">信息传递</text>

<text class="l" x="2974" y="1869">功能</text>
<text class="l" x="3200" y="1771">通信识别的五大核心信息</text>
<text class="l" x="3383" y="1800">协议</text>
<text class="l" x="3388" y="1953">端口</text>
<text class="l" x="3628" y="2033">时序分配</text>
<text class="l" x="3628" y="2082">标准既定</text>
<text class="l" x="3202" y="2003">通信处理</text>

<text class="l" x="2946" y="2951">功能</text>
<text class="l" x="3379" y="2959">如何实现</text>
<text class="l" x="3433" y="2862">辅助技术</text>
<text class="l" x="3610" y="2861">设备</text>
<text class="l" x="3729" y="2563">分类</text>
<text class="l" x="3865" y="2554">方式</text>
<text class="l" x="4073" y="2416">不足</text>
<text class="l" x="4073" y="2503">不足</text>
<text class="l" x="4221" y="2669">路由算法</text>
<text class="l" x="4746" y="2587">优点</text>
<text class="l" x="4746" y="2627">缺点</text>
<text class="l" x="4740" y="2725">优点</text>
<text class="l" x="4738" y="2765">缺点</text>
<text class="l" x="4795" y="2956">协议</text>
<text class="l" x="5258" y="2919">算法</text>
<text class="l" x="5286" y="2989">改进</text>
<text class="l" x="5477" y="2854">问题</text>
<text class="l" x="5677" y="2830">导致</text>
<text class="l" x="5915" y="2763">无环路解决方案</text>
<text class="l" x="5926" y="2837">有环路解决方案</text>
<text class="l" x="5860" y="2877">总结</text>
<text class="l" x="5477" y="2911">策略</text>
<text class="l" x="5746" y="2996">不足</text>
<text class="l" x="5286" y="3113">算法</text>
<text class="l" x="5492" y="3115">策略</text>
<text class="l" x="5515" y="3180">原理</text>
<text class="l" x="5863" y="3173">优点</text>
<text class="l" x="5863" y="3221">缺点</text>
<text class="l" x="5297" y="3299">协议</text>
<text class="l" x="5635" y="3309">特点</text>
<text class="l" x="5237" y="3371">策略</text>
<text class="l" x="3678" y="2945">特性</text>
<text class="l" x="3957" y="2870">原因</text>
<text class="l" x="3689" y="3025">核心</text>
<text class="l" x="3962" y="3033">分类</text>
<text class="l" x="4342" y="3016">应用</text>
<text class="l" x="3474" y="3036">作用</text>
<text class="l" x="3380" y="3209">如何实现</text>
<text class="l" x="3947" y="3170">组成</text>
<text class="l" x="4163" y="3238">全0</text>
<text class="l" x="4163" y="3295">全1</text>
<text class="l" x="3824" y="3219">IPv4数量危机的解决</text>
<text class="l" x="3954" y="3481">搭配</text>
<text class="l" x="4241" y="3504">主流解决方案</text>

<text class="l" x="2944" y="3550">代表</text>
<text class="l" x="2937" y="3614">功能</text>
<text class="l" x="3516" y="3535">作用</text>
<text class="l" x="3189" y="3789">解决识别节点的问题</text>
<text class="l" x="3596" y="3863">传输方式</text>
<text class="l" x="4220" y="3938">问题</text>
<text class="l" x="4484" y="3941">导致</text>
<text class="l" x="4098" y="4038">高级特性</text>
<text class="l" x="4347" y="4038">解决</text>

<text class="l" x="3013" y="4295">功能</text>
<text class="l" x="3480" y="4281">传输媒介</text>
<text class="l" x="3855" y="4621">特点</text>
</g>
</g>
</svg>
